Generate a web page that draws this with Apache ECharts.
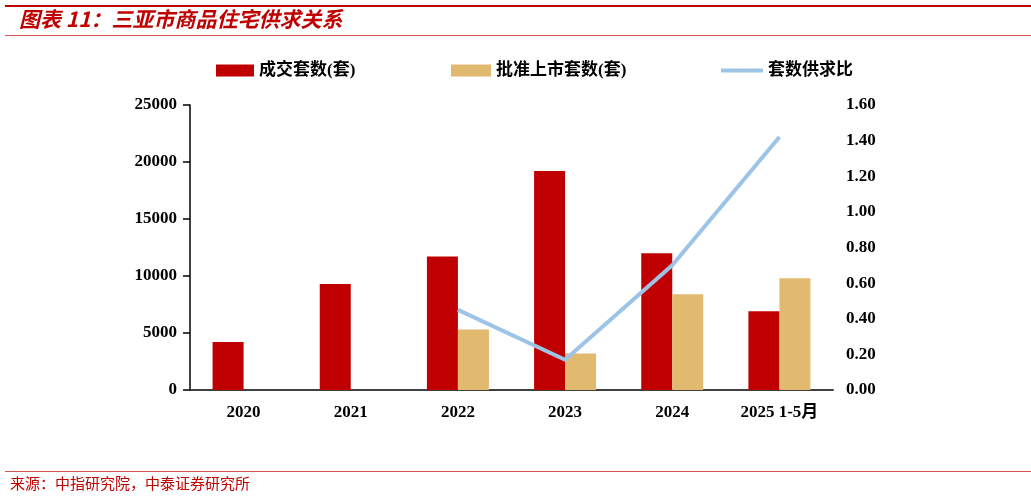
<!DOCTYPE html>
<html>
<head>
<meta charset="utf-8">
<script src="https://cdn.jsdelivr.net/npm/echarts@6/dist/echarts.min.js"></script>
<style>html,body{margin:0;padding:0;background:#fff}#c{width:1031px;height:497px}</style>
</head>
<body>
<div id="c"></div>
<script>
var categories = ['2020', '2021', '2022', '2023', '2024', '2025 1-5月'];
var dealUnits = [4200, 9300, 11700, 19200, 12000, 6900];
var approvedUnits = [null, null, 5300, 3200, 8400, 9800];
var supplyDemandRatio = [null, null, 0.45, 0.17, 0.70, 1.42];
var leftTicks = [0, 5000, 10000, 15000, 20000, 25000];
var rightTicks = [0, 0.2, 0.4, 0.6, 0.8, 1.0, 1.2, 1.4, 1.6];

var serif = '"Liberation Serif", "Times New Roman", "Noto Sans CJK SC", serif';
var chart = echarts.init(document.getElementById('c'), null, {renderer: 'canvas'});
var legendText = {fontFamily: serif, fontSize: 17, color: '#000', fontWeight: 'bold'};
chart.setOption({
  animation: false,
  backgroundColor: '#fff',
  graphic: [
    {type: 'rect', shape: {x: 5, y: 5, width: 1026, height: 2}, style: {fill: '#C00000'}},
    {type: 'rect', shape: {x: 5, y: 35, width: 1026, height: 1}, style: {fill: '#D9534F'}},
    {type: 'text', left: 19, top: 9, style: {text: '图表 11：三亚市商品住宅供求关系', fill: '#C00000', font: 'italic bold 21px "Noto Sans CJK SC", sans-serif'}},
    {type: 'rect', shape: {x: 5, y: 471, width: 1026, height: 1}, style: {fill: '#D9534F'}},
    {type: 'text', left: 10, top: 476, style: {text: '来源：中指研究院，中泰证券研究所', fill: '#C00000', font: '15px "Noto Sans CJK SC", sans-serif'}}
  ],
  legend: [
    {data: ['成交套数(套)'], left: 211, top: 57, itemWidth: 38, itemHeight: 12, icon: 'rect', textStyle: legendText},
    {data: ['批准上市套数(套)'], left: 446, top: 57, itemWidth: 40, itemHeight: 12, icon: 'rect', textStyle: legendText},
    {data: [{name: '套数供求比', icon: 'rect'}], left: 716, top: 57, itemWidth: 42, itemHeight: 4, textStyle: legendText}
  ],
  grid: {left: 190, right: 198, top: 105, bottom: 107},
  xAxis: {
    type: 'category', data: categories,
    axisLine: {lineStyle: {color: '#404040', width: 2}},
    axisTick: {show: false},
    axisLabel: {fontFamily: serif, fontSize: 17, fontWeight: 'bold', color: '#000', margin: 14}
  },
  yAxis: [
    {
      type: 'value', min: leftTicks[0], max: leftTicks[leftTicks.length - 1], interval: 5000,
      axisLine: {show: true, lineStyle: {color: '#000', width: 1.5}},
      axisTick: {show: true, length: 7, lineStyle: {color: '#000', width: 1.5}},
      splitLine: {show: false},
      axisLabel: {fontFamily: serif, fontSize: 17, fontWeight: 'bold', color: '#000', margin: 13,
        formatter: function (v) { return String(v); }}
    },
    {
      type: 'value', min: rightTicks[0], max: rightTicks[rightTicks.length - 1], interval: 0.2,
      axisLine: {show: false}, axisTick: {show: false}, splitLine: {show: false},
      axisLabel: {fontFamily: serif, fontSize: 17, fontWeight: 'bold', color: '#000', margin: 13,
        formatter: function (v) { return v.toFixed(2); }}
    }
  ],
  series: [
    {name: '成交套数(套)', type: 'bar', data: dealUnits, barWidth: 31, barGap: '0%', itemStyle: {color: '#C00000'}},
    {name: '批准上市套数(套)', type: 'bar', data: approvedUnits, barWidth: 31, itemStyle: {color: '#E1B96F'}},
    {name: '套数供求比', type: 'line', yAxisIndex: 1, data: supplyDemandRatio, showSymbol: false, symbol: 'none',
      connectNulls: false, lineStyle: {color: '#9DC3E6', width: 4}, itemStyle: {color: '#9DC3E6'}}
  ]
});
</script>
</body>
</html>
